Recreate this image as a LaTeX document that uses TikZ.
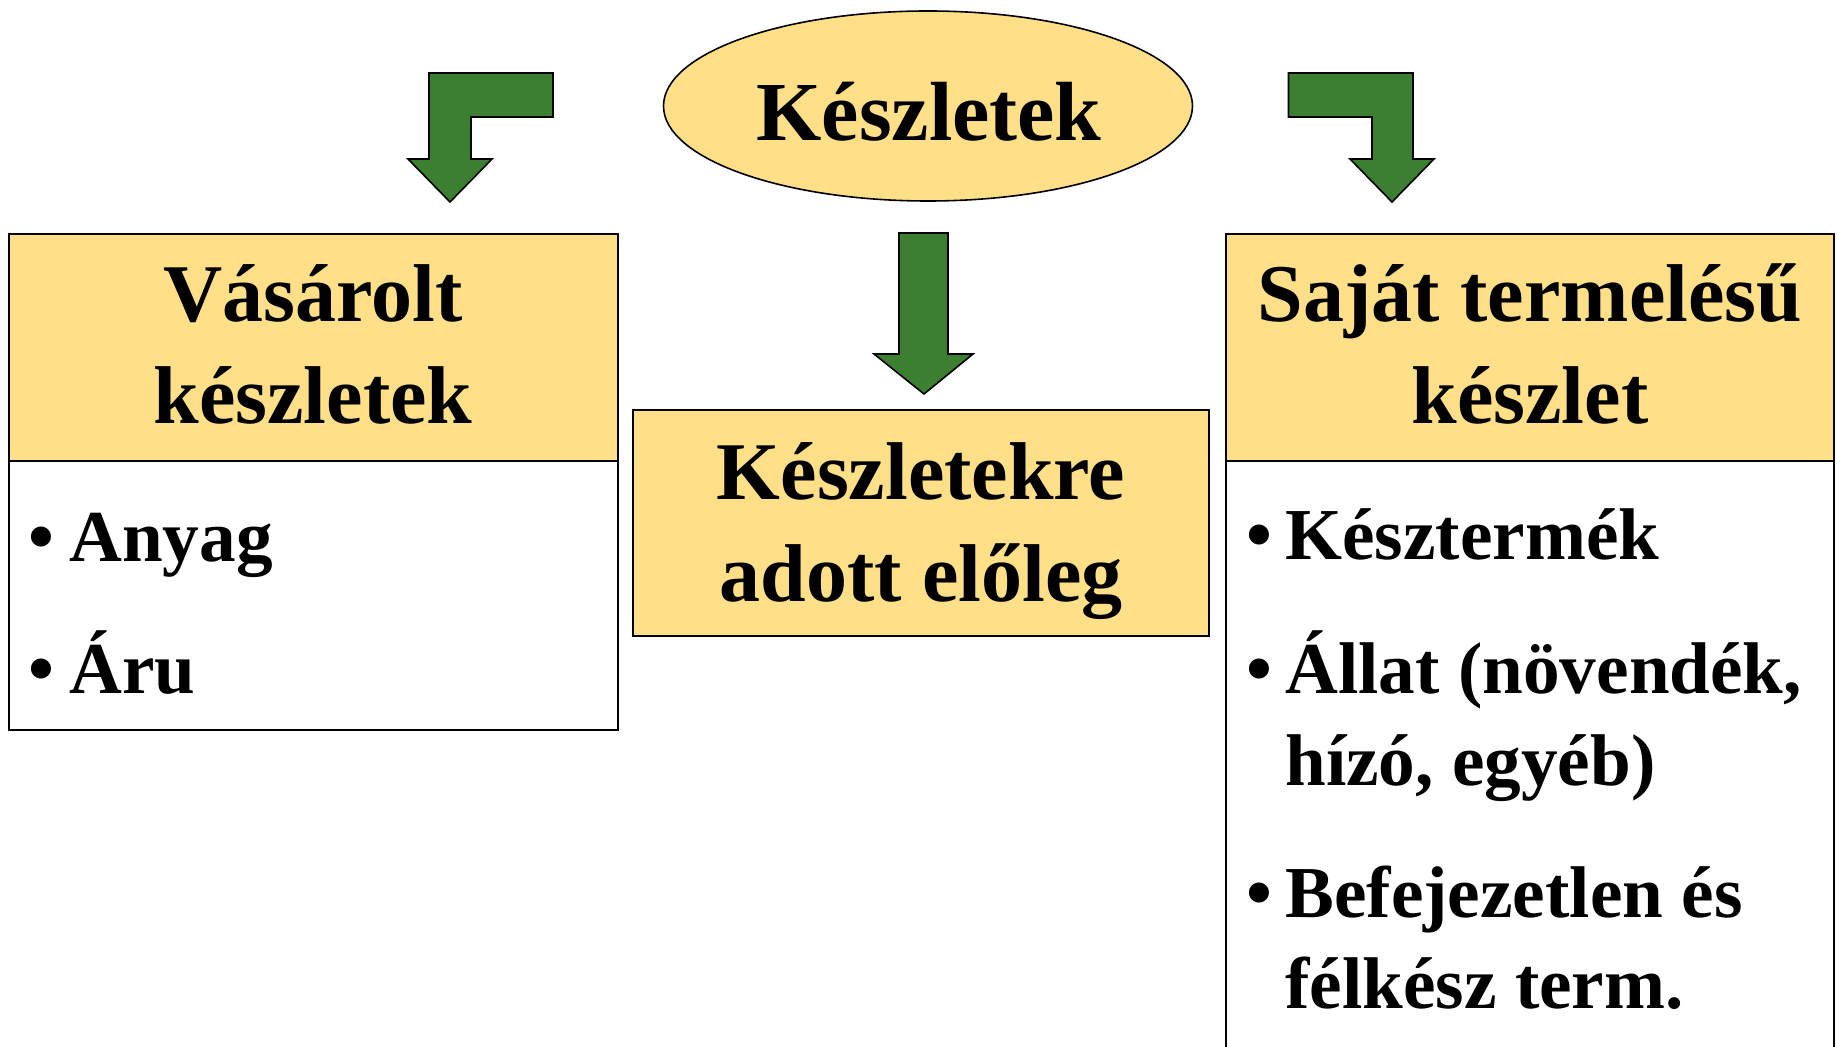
\documentclass[tikz,border=0pt]{standalone}
\usepackage{fontspec}
\setmainfont{Liberation Serif}
\usetikzlibrary{shapes.geometric}
\definecolor{boxyellow}{RGB}{255,223,135}
\definecolor{arrowgreen}{RGB}{61,127,49}
\begin{document}
\begin{tikzpicture}[x=0.5pt,y=-0.5pt,
  panel/.style={draw=black,line width=1pt,inner sep=0pt,outer sep=0pt,anchor=north west},
  head/.style={font=\fontsize{41}{48}\selectfont\bfseries,anchor=base,inner sep=0pt},
  item/.style={font=\fontsize{36.6}{44}\selectfont\bfseries,anchor=base west,inner sep=0pt},
  dot/.style={font=\fontsize{37}{44}\selectfont\bfseries,anchor=base west,inner sep=0pt},
  blockarrow/.style={fill=arrowgreen,draw=black,line width=0.8pt,line join=miter}]
\useasboundingbox (0,0) rectangle (1837,1047);
% panels
\node[panel,fill=boxyellow,minimum width=304.7pt,minimum height=113.5pt] (lhead) at (8.6,234) {};
\node[panel,fill=white,minimum width=304.7pt,minimum height=134.5pt] (lbody) at (8.6,461) {};
\node[panel,fill=boxyellow,minimum width=288pt,minimum height=113pt] (mhead) at (633,410) {};
\node[panel,fill=boxyellow,minimum width=304pt,minimum height=113.5pt] (rhead) at (1226,234) {};
\draw[line width=1pt] (rhead.south west) -- (1226,1060);
\draw[line width=1pt] (rhead.south east) -- (1834,1060);
% ellipse
\node[ellipse,draw=black,fill=boxyellow,line width=0.8pt,minimum width=264.5pt,minimum height=95pt,inner sep=0pt] (root) at (928,106) {};
% arrows
\draw[blockarrow] (553,73) -- (429,73) -- (429,159) -- (408,159) -- (450,202) -- (492,159) -- (471,159) -- (471,117) -- (553,117) -- cycle;
\draw[blockarrow] (1288.5,73) -- (1413,73) -- (1413,159) -- (1434,159) -- (1392,202) -- (1350,159) -- (1372,159) -- (1372,117) -- (1288.5,117) -- cycle;
\draw[blockarrow] (899,233) -- (948,233) -- (948,354) -- (973,354) -- (924,394) -- (874,354) -- (899,354) -- cycle;
% texts
\node[head,font=\fontsize{42}{50}\selectfont\bfseries] (troot) at (929,141) {Készletek};
\node[head] (tl1) at (313,322) {Vásárolt};
\node[head] (tl2) at (313,424) {készletek};
\node[head] (tm1) at (921,500) {Készletekre};
\node[head] (tm2) at (921,602) {adott előleg};
\node[head] (tr1) at (1530,322) {Saját termelésű};
\node[head] (tr2) at (1530,424) {készlet};
% left items
\node[dot] (bl1) at (28,562) {•};
\node[item] (il1) at (69,562) {Anyag};
\node[dot] (bl2) at (28,694) {•};
\node[item] (il2) at (69,694) {Áru};
% right items
\node[dot] (br1) at (1246,560) {•};
\node[item] (ir1) at (1285,560) {Késztermék};
\node[dot] (br2) at (1246,694) {•};
\node[item] (ir2) at (1285,694) {Állat (növendék,};
\node[item] (ir3) at (1285,785) {hízó, egyéb)};
\node[dot] (br3) at (1246,917) {•};
\node[item] (ir4) at (1285,917) {Befejezetlen és};
\node[item] (ir5) at (1285,1008) {félkész term.};
\end{tikzpicture}
\end{document}
